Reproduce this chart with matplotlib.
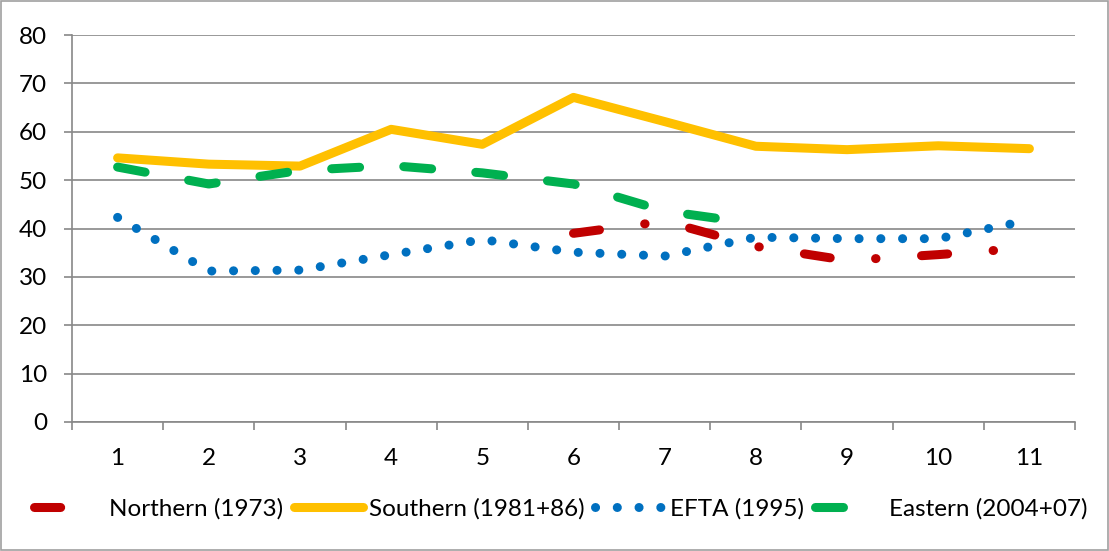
import numpy as np
import matplotlib
matplotlib.use("Agg")
import matplotlib.pyplot as plt
from matplotlib.patches import Rectangle

plt.rcParams['font.family'] = ['Lato', 'DejaVu Sans']

# data
categories = list(range(1, 12))
northern = [np.nan, np.nan, np.nan, np.nan, np.nan, 39.0, 41.5, 36.3, 33.4, 34.6, 36.0]
southern = [54.6, 53.3, 52.9, 60.5, 57.4, 67.1, 62.1, 57.0, 56.3, 57.1, 56.5]
efta = [42.3, 31.2, 31.4, 34.6, 37.7, 35.1, 34.3, 38.2, 37.9, 37.9, 41.7]
eastern = [52.7, 49.2, 52.0, 53.0, 51.5, 49.2, 43.6, 41.0, np.nan, np.nan, np.nan]

labels = ['Northern (1973)', 'Southern (1981+86)', 'EFTA (1995)', 'Eastern (2004+07)']
colors = ['#C00000', '#FFC000', '#0070C0', '#00B050']

fig = plt.figure(figsize=(11.09, 5.51), dpi=100)
ax = fig.add_axes([72/1109, 1-422/551, (1075-72)/1109, (422-35)/551])

lw = 6.5
x = np.array(categories)
l1, = ax.plot(x, northern, color=colors[0], lw=lw, ls=(0, (2.9, 5.05, 0.05, 5.05)),
              dash_capstyle='round', solid_capstyle='round')
l2, = ax.plot(x, southern, color=colors[1], lw=lw, ls='-',
              solid_capstyle='round', solid_joinstyle='round')
l3, = ax.plot(x, efta, color=colors[2], lw=lw, ls=(0, (0.01, 2.4)),
              dash_capstyle='round')
l4, = ax.plot(x, eastern, color=colors[3], lw=lw, ls=(0, (3.1, 4.9)),
              dash_capstyle='round', dash_joinstyle='round')

grid_c = '#888888'
ax.set_ylim(0, 80)
ax.set_xlim(0.5, 11.5)
ax.set_yticks(range(0, 81, 10))
ax.yaxis.grid(True, color=grid_c, lw=1.2)
ax.set_axisbelow(True)

# category boundaries as ticks, labels in the middle
ax.set_xticks(np.arange(0.5, 12, 1))
ax.set_xticklabels([])
ax.set_xticks(x, minor=True)
ax.set_xticklabels([str(c) for c in categories], minor=True)
ax.tick_params(axis='x', which='major', length=6, width=1.2, color=grid_c, direction='out')
ax.tick_params(axis='x', which='minor', length=0, pad=19, labelsize=17.5)
ax.tick_params(axis='y', length=6, width=1.2, color=grid_c, pad=12, labelsize=17.5)

for s in ['top', 'right']:
    ax.spines[s].set_visible(False)
for s in ['left', 'bottom']:
    ax.spines[s].set_color(grid_c)
    ax.spines[s].set_linewidth(1.2)

leg = fig.legend([l1, l2, l3, l4], labels, loc='center', ncol=4,
                 bbox_to_anchor=(561/1109, 1-509/551), frameon=False,
                 fontsize=17.5, handlelength=2.85, handletextpad=0.22,
                 columnspacing=0.45)

fig.patches.append(Rectangle((0.001, 0.001), 0.998, 0.998, transform=fig.transFigure,
                             fill=False, edgecolor='#A0A0A0', lw=1.2))

fig.savefig('out.png', dpi=100)
